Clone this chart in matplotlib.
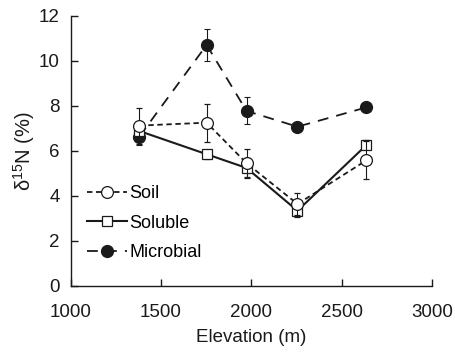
import matplotlib
matplotlib.use("Agg")
import matplotlib.pyplot as plt

plt.rcParams['font.family'] = ['Liberation Sans', 'DejaVu Sans']
plt.rcParams['mathtext.fontset'] = 'custom'
plt.rcParams['mathtext.rm'] = 'Liberation Sans'
plt.rcParams['mathtext.it'] = 'Liberation Sans:italic'
plt.rcParams['mathtext.bf'] = 'Liberation Sans:bold'

elevation = [1380, 1753, 1974, 2256, 2638]
soil = [7.12, 7.25, 5.45, 3.64, 5.58]
soil_err = [0.80, 0.85, 0.63, 0.47, 0.85]
soluble = [6.88, 5.85, 5.24, 3.34, 6.26]
soluble_err = [0.25, 0.20, 0.45, 0.28, 0.20]
microbial = [6.63, 10.70, 7.77, 7.07, 7.93]
microbial_err = [0.37, 0.72, 0.60, 0.12, 0.12]

fig = plt.figure(figsize=(4.56, 3.52), dpi=100)
ax = fig.add_axes([0.155, 0.1875, 0.792, 0.768])

ax.errorbar(elevation, microbial, yerr=microbial_err, color='#1a1a1a', lw=1.3,
            dashes=(6, 4.5), marker='o', ms=8.5, mfc='#1a1a1a', mec='#1a1a1a',
            elinewidth=0.8, capsize=2.5, capthick=0.8, label='Microbial', zorder=2)
ax.errorbar(elevation, soluble, yerr=soluble_err, color='#1a1a1a', lw=1.5,
            ls='-', marker='s', ms=7.5, mfc='white', mec='#1a1a1a', mew=0.9,
            elinewidth=0.8, capsize=2.5, capthick=0.8, label='Soluble', zorder=3)
ax.errorbar(elevation, soil, yerr=soil_err, color='#1a1a1a', lw=1.3,
            dashes=(3, 2), marker='o', ms=8.5, mfc='white', mec='#1a1a1a', mew=0.9,
            elinewidth=0.8, capsize=2.5, capthick=0.8, label='Soil', zorder=4)

ax.set_xlim(1000, 3000)
ax.set_ylim(0, 12)
ax.set_xticks([1000, 1500, 2000, 2500, 3000])
ax.set_yticks([0, 2, 4, 6, 8, 10, 12])
ax.spines['top'].set_visible(False)
ax.spines['right'].set_visible(False)
for s in ('left', 'bottom'):
    ax.spines[s].set_linewidth(1.0)
    ax.spines[s].set_color('#1a1a1a')
ax.tick_params(direction='in', length=5, width=1.0, labelsize=13.5,
               colors='#1a1a1a')
ax.tick_params(axis='x', pad=13)
ax.tick_params(axis='y', pad=8)
ax.set_xlabel('Elevation (m)', fontsize=13.5, color='#1a1a1a', labelpad=6)
ax.set_ylabel('δ$^{15}$N (%)', fontsize=14.5, color='#1a1a1a', labelpad=1)

handles, labels = ax.get_legend_handles_labels()
order = [2, 1, 0]
leg = ax.legend([handles[i][0] for i in order], [labels[i] for i in order],
                loc='center left', bbox_to_anchor=(0.045, 0.233), frameon=False,
                fontsize=13, handlelength=2.2, handletextpad=0.15,
                labelspacing=0.7, borderaxespad=0, borderpad=0)

fig.savefig('out.png', dpi=100)
